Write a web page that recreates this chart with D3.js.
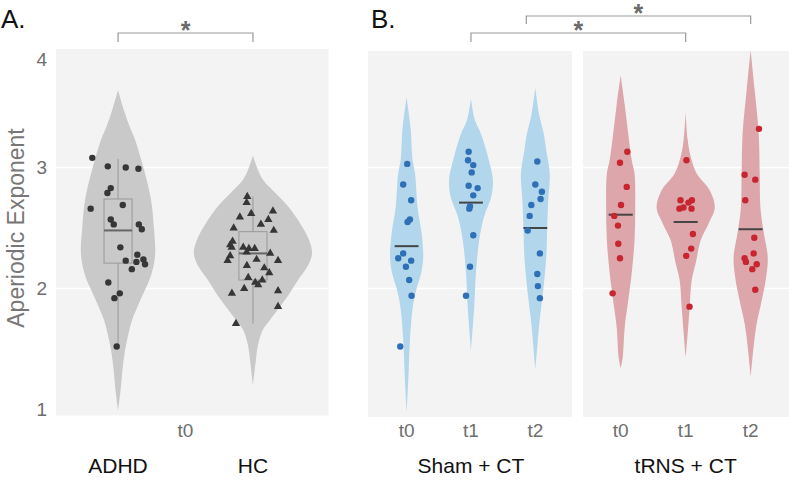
<!DOCTYPE html>
<html>
<head>
<meta charset="utf-8">
<script src="https://cdn.jsdelivr.net/npm/d3@7"></script>
<style>
  body { margin: 0; background: #fff; }
  svg { display: block; }
</style>
</head>
<body>
<div id="wrapper"></div>
<script>
// ---- data ----
const yTicks = [1, 2, 3, 4]
const groupsA = ["ADHD", "HC"]
const timepoints = ["t0", "t1", "t2"]
const groupsB = ["Sham + CT", "tRNS + CT"]

// violin outlines: [exponent, half width in category units]
const adhdViolin = [[3.64,0],[3.47,.045],[3.35,.082],[3.23,.126],[2.98,.193],[2.73,.245],[2.48,.267],[2.28,.275],[2.11,.245],[1.99,.2],[1.86,.148],[1.74,.104],[1.61,.074],[1.49,.052],[1.33,.033],[1.16,.019],[0.99,0]]
const hcViolin = [[3.10,0],[2.98,.037],[2.90,.074],[2.81,.148],[2.69,.252],[2.54,.349],[2.40,.416],[2.29,.438],[2.19,.408],[2.07,.334],[1.94,.26],[1.85,.2],[1.74,.126],[1.66,.074],[1.53,.037],[1.41,.022],[1.20,0]]
const shamViolins = [
  [[3.58,0],[3.33,.062],[3.06,.093],[2.95,.131],[2.67,.17],[2.46,.232],[2.26,.258],[2.13,.227],[1.99,.15],[1.85,.097],[1.57,.051],[1.30,.031],[0.97,0]],
  [[3.57,0],[3.39,.062],[3.28,.155],[3.18,.216],[3.06,.278],[2.90,.34],[2.76,.317],[2.59,.201],[2.40,.128],[2.13,.077],[1.85,.051],[1.49,0]],
  [[3.66,0],[3.43,.062],[3.28,.131],[3.14,.17],[2.95,.224],[2.73,.201],[2.51,.185],[2.26,.17],[1.99,.124],[1.71,.062],[1.52,.031],[1.33,0]]
]
const trnsViolins = [
  [[3.76,0],[3.52,.062],[3.28,.116],[3.06,.17],[2.95,.213],[2.67,.224],[2.40,.213],[2.13,.17],[1.90,.116],[1.68,.062],[1.43,.031],[1.34,0]],
  [[3.46,0],[3.23,.031],[3.09,.077],[2.95,.17],[2.81,.371],[2.67,.448],[2.54,.355],[2.40,.232],[2.21,.155],[2.07,.093],[1.85,.062],[1.63,.031],[1.43,0]],
  [[3.97,0],[3.64,.062],[3.28,.124],[2.95,.139],[2.67,.15],[2.46,.201],[2.26,.263],[2.07,.232],[1.90,.17],[1.71,.093],[1.52,.046],[1.27,0]]
]

// individual exponents and their jitter (category units)
const adhdValues = [3.08,3.01,3.00,2.99,2.83,2.79,2.69,2.66,2.57,2.53,2.53,2.49,2.34,2.28,2.23,2.24,2.22,2.20,2.16,2.05,1.96,1.92,1.52]
const adhdJitter = [-.191,-.076,.057,.151,-.054,-.079,.035,-.203,-.054,-.032,.154,.176,.017,.143,.057,.188,.136,.2,.102,-.072,.013,-.027,-.01]
const hcValues = [2.76,2.71,2.64,2.62,2.59,2.57,2.53,2.50,2.48,2.39,2.36,2.34,2.34,2.33,2.33,2.30,2.29,2.27,2.23,2.24,2.23,2.19,2.17,2.13,2.09,2.07,2.05,2.03,2.00,1.96,1.98,1.85,1.71]
const hcJitter = [-.042,-.047,.148,-.013,-.097,.114,.059,-.143,.154,-.151,-.169,-.158,-.072,-.03,.013,-.047,.128,-.169,-.188,.027,.186,-.045,.084,.121,-.035,.069,.017,.039,-.065,-.156,.186,.186,-.126]

const shamValues = [
  [3.03,2.86,2.73,2.57,2.55,2.29,2.25,2.23,2.18,2.07,1.94,1.52],
  [3.13,3.06,3.02,2.96,2.85,2.83,2.77,2.68,2.66,2.44,2.18,1.94],
  [3.05,2.86,2.80,2.74,2.69,2.60,2.48,2.29,2.12,2.02,1.92]
]
const shamJitter = [
  [.009,-.053,.071,.051,.015,-.053,-.13,.071,-.011,.04,.077,-.099],
  [-.036,-.046,.036,.011,-.036,.104,.036,-.015,-.026,.036,-.015,-.077],
  [.031,0,.102,.082,-.062,-.088,-.119,.071,.031,.04,.071]
]
const trnsValues = [
  [3.13,3.04,2.84,2.69,2.60,2.52,2.37,2.25,1.96],
  [3.06,2.73,2.73,2.71,2.66,2.67,2.66,2.45,2.33,2.27,1.85],
  [3.32,2.94,2.90,2.73,2.42,2.29,2.25,2.22,2.20,2.16,1.99]
]
const trnsJitter = [
  [.102,-.011,.093,.005,-.099,-.042,-.037,-.011,-.124],
  [.012,-.08,.096,.043,-.096,-.034,.09,.111,.085,.008,.059],
  [.128,-.093,.071,-.083,.056,.046,-.093,-.073,.093,.025,.071]
]
const shamMedians = [2.35, 2.71, 2.50]
const trnsMedians = [2.61, 2.55, 2.49]

// boxplot summaries for panel A: [min, q1, median, q3, max]
const adhdBox = [1.52, 2.21, 2.48, 2.74, 3.07]
const hcBox = [1.71, 2.07, 2.29, 2.47, 2.76]

// ---- layout ----
const width = 789
const height = 481
const font = "'Liberation Sans', Arial, sans-serif"

const svg = d3.select("#wrapper").append("svg")
  .attr("width", width)
  .attr("height", height)

const y = d3.scaleLinear().domain([0.95, 3.98]).range([415.5, 49])

const xA = d3.scaleLinear().domain([-0.46, 1.56]).range([56, 328.5])
const xSham = d3.scaleLinear().domain([-0.6, 2.57]).range([368, 572])
const xTrns = d3.scaleLinear().domain([-0.58, 2.59]).range([583, 789])

const panelTop = { A: 49, B: 51 }
const panelBottom = { A: 415.5, B: 417 }

// backgrounds
const panels = [
  { x: xA, top: panelTop.A, bottom: panelBottom.A },
  { x: xSham, top: panelTop.B, bottom: panelBottom.B },
  { x: xTrns, top: panelTop.B, bottom: panelBottom.B }
]
panels.forEach(p => {
  const [x0, x1] = p.x.range()
  svg.append("rect")
    .attr("x", x0).attr("y", p.top)
    .attr("width", x1 - x0).attr("height", p.bottom - p.top)
    .attr("fill", "#f3f3f3")
  // white grid lines at 2 and 3
  svg.append("g").selectAll("line")
    .data([2, 3])
    .join("line")
    .attr("x1", x0).attr("x2", x1)
    .attr("y1", d => y(d)).attr("y2", d => y(d))
    .attr("stroke", "#fff")
    .attr("stroke-width", 1.6)
})

// violin generator
const violin = (x, center, outline, fill) => {
  const area = d3.area()
    .y(d => y(d[0]))
    .x0(d => x(center - d[1]))
    .x1(d => x(center + d[1]))
    .curve(d3.curveCatmullRom)
  svg.append("path")
    .datum(outline)
    .attr("d", area)
    .attr("fill", fill)
}

// ---- panel A ----
violin(xA, 0, adhdViolin, "#c9c9c9")
violin(xA, 1, hcViolin, "#c9c9c9")

const boxHalf = 0.104
;[adhdBox, hcBox].forEach((b, i) => {
  const g = svg.append("g")
  g.append("line")
    .attr("x1", xA(i)).attr("x2", xA(i))
    .attr("y1", y(b[4])).attr("y2", y(b[0]))
    .attr("stroke", "#999").attr("stroke-width", 1)
  g.append("rect")
    .attr("x", xA(i - boxHalf)).attr("y", y(b[3]))
    .attr("width", xA(i + boxHalf) - xA(i - boxHalf))
    .attr("height", y(b[1]) - y(b[3]))
    .attr("fill", "#c9c9c9")
    .attr("stroke", "#999").attr("stroke-width", 1)
  g.append("line")
    .attr("x1", xA(i - boxHalf)).attr("x2", xA(i + boxHalf))
    .attr("y1", y(b[2])).attr("y2", y(b[2]))
    .attr("stroke", "#666").attr("stroke-width", 2)
})

svg.append("g").selectAll("circle")
  .data(adhdValues)
  .join("circle")
  .attr("cx", (d, i) => xA(adhdJitter[i]))
  .attr("cy", d => y(d))
  .attr("r", 3.2)
  .attr("fill", "#363636")

const tri = d3.symbol().type(d3.symbolTriangle).size(30)
svg.append("g").selectAll("path")
  .data(hcValues)
  .join("path")
  .attr("d", tri)
  .attr("transform", (d, i) => `translate(${xA(1 + hcJitter[i])},${y(d)})`)
  .attr("fill", "#363636")

// ---- panel B ----
const medianHalf = 0.185
const drawGroup = (x, violins, values, jitter, medians, fill, dot) => {
  violins.forEach((v, i) => violin(x, i, v, fill))
  medians.forEach((m, i) => {
    svg.append("line")
      .attr("x1", x(i - medianHalf)).attr("x2", x(i + medianHalf))
      .attr("y1", y(m)).attr("y2", y(m))
      .attr("stroke", "#444").attr("stroke-width", 2)
  })
  values.forEach((vals, i) => {
    svg.append("g").selectAll("circle")
      .data(vals)
      .join("circle")
      .attr("cx", (d, j) => x(i + jitter[i][j]))
      .attr("cy", d => y(d))
      .attr("r", 3.2)
      .attr("fill", dot)
  })
}
drawGroup(xSham, shamViolins, shamValues, shamJitter, shamMedians, "#b2d6eb", "#2f6fb6")
drawGroup(xTrns, trnsViolins, trnsValues, trnsJitter, trnsMedians, "#dca6aa", "#c7252f")

// ---- axes & labels ----
const yAxis = svg.append("g")
yAxis.selectAll("text")
  .data(yTicks)
  .join("text")
  .attr("x", 47)
  .attr("y", d => Math.max(y(d), panelTop.A + 10))
  .attr("dy", "0.35em")
  .attr("text-anchor", "end")
  .style("font-family", font)
  .style("font-size", "19px")
  .style("fill", "#6e6e6e")
  .text(d => d)

svg.append("text")
  .attr("transform", `translate(24,228) rotate(-90)`)
  .attr("text-anchor", "middle")
  .style("font-family", font)
  .style("font-size", "23px")
  .style("fill", "#777")
  .text("Aperiodic Exponent")

// time labels
const tickStyle = sel => sel
  .attr("text-anchor", "middle")
  .style("font-family", font)
  .style("font-size", "19px")
  .style("fill", "#6e6e6e")

svg.append("text")
  .attr("x", xA(0.5)).attr("y", 437)
  .call(tickStyle)
  .text(timepoints[0])

;[xSham, xTrns].forEach(x => {
  svg.append("g").selectAll("text")
    .data(timepoints)
    .join("text")
    .attr("x", (d, i) => x(i)).attr("y", 437)
    .call(tickStyle)
    .text(d => d)
})

// group labels
const groupStyle = sel => sel
  .attr("text-anchor", "middle")
  .style("font-family", font)
  .style("font-size", "21px")
  .style("fill", "#111")

svg.append("g").selectAll("text")
  .data(groupsA)
  .join("text")
  .attr("x", (d, i) => xA(i)).attr("y", 473)
  .call(groupStyle)
  .text(d => d)

svg.append("text").attr("x", xSham(1)).attr("y", 473).call(groupStyle).text(groupsB[0])
svg.append("text").attr("x", xTrns(1)).attr("y", 473).call(groupStyle).text(groupsB[1])

// panel letters
svg.append("text").attr("x", 1).attr("y", 28)
  .style("font-family", font).style("font-size", "26px").style("fill", "#111")
  .text("A.")
svg.append("text").attr("x", 371).attr("y", 28)
  .style("font-family", font).style("font-size", "26px").style("fill", "#111")
  .text("B.")

// significance brackets
const bracket = (xl, xr, yTop, drop) => {
  svg.append("path")
    .attr("d", `M${xl},${yTop + drop}V${yTop}H${xr}V${yTop + drop}`)
    .attr("fill", "none")
    .attr("stroke", "#999")
    .attr("stroke-width", 1.2)
  svg.append("text")
    .attr("x", (xl + xr) / 2).attr("y", yTop + 5.5)
    .attr("text-anchor", "middle")
    .style("font-family", font)
    .style("font-size", "25px")
    .style("font-weight", "bold")
    .style("fill", "#6a6a6a")
    .text("*")
}
bracket(xA(0), xA(1), 33, 9)
bracket(xSham(1), xTrns(1), 33, 9)
bracket(xSham(1.86), xTrns(2), 16, 8)
</script>
</body>
</html>
